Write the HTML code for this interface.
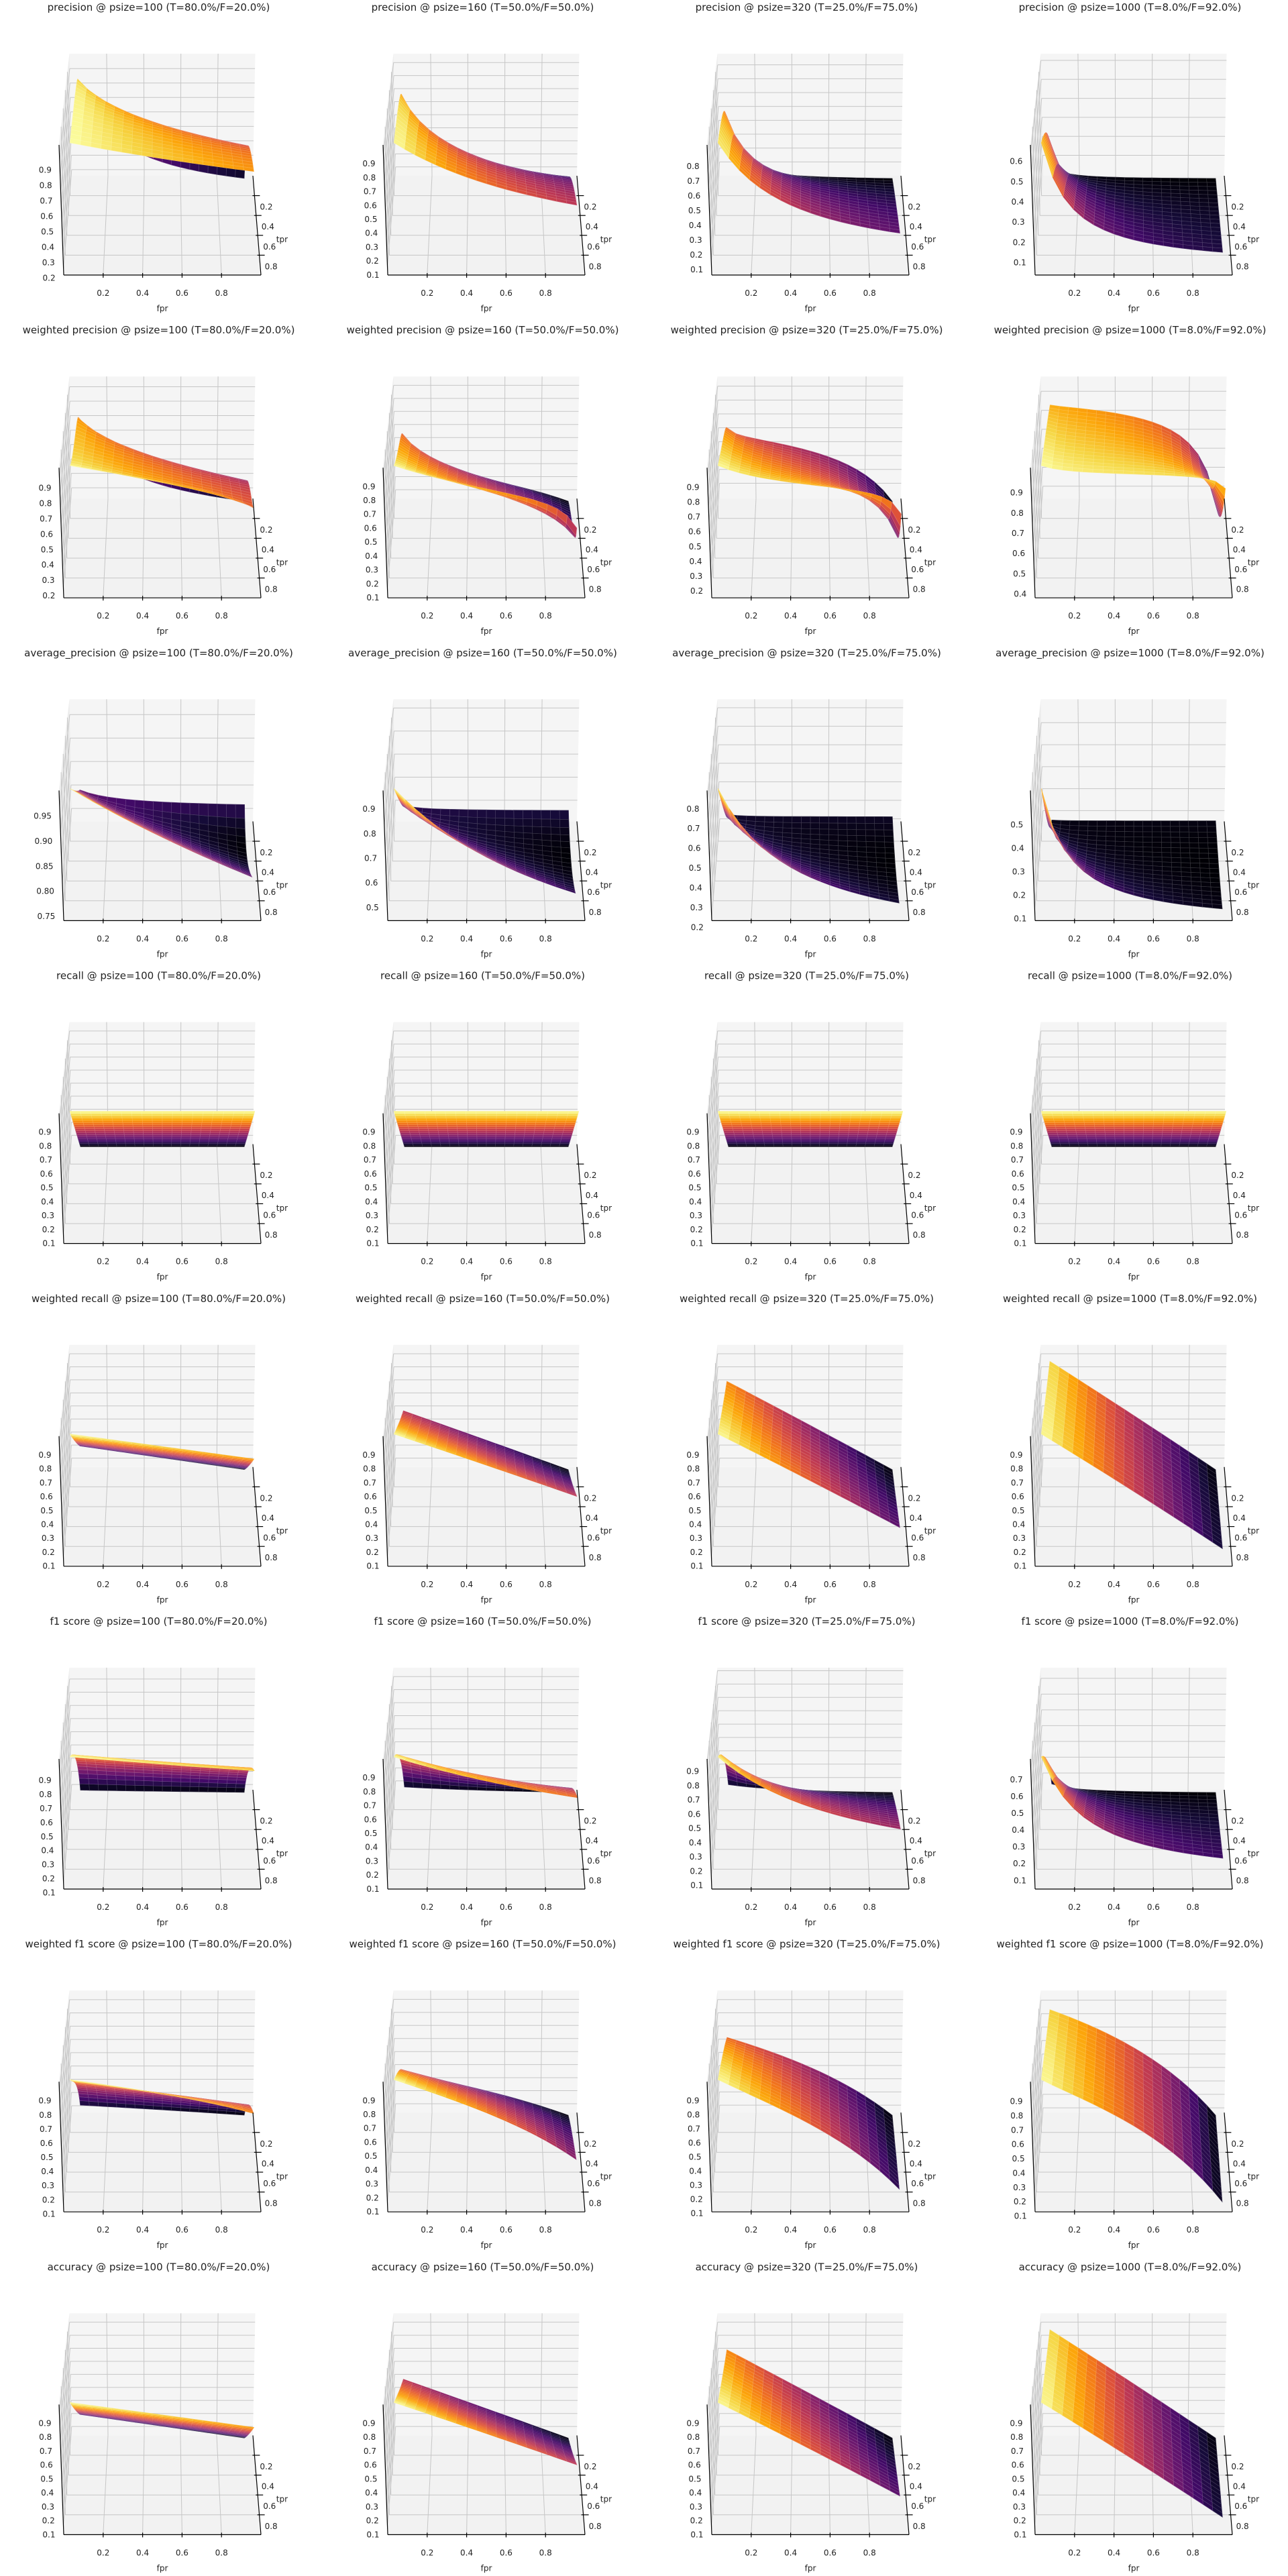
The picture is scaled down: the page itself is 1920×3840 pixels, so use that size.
<!DOCTYPE html>
<html><head><meta charset="utf-8">
<style>
html,body{margin:0;padding:0;background:#fff;}
svg{display:block;}
text{font-family:"DejaVu Sans","Liberation Sans",sans-serif;fill:#222;}
</style></head>
<body>
<svg id="fig" width="1920" height="3840" viewBox="0 0 1920 3840" xmlns="http://www.w3.org/2000/svg"></svg>
<script>
const metrics=['precision','weighted precision','average_precision','recall','weighted recall','f1 score','weighted f1 score','accuracy'];
const psizes=[100,160,320,1000];
const truePct=[80.0,50.0,25.0,8.0];
const gridVals=[0.05,0.10,0.15,0.20,0.25,0.30,0.35,0.40,0.45,0.50,0.55,0.60,0.65,0.70,0.75,0.80,0.85,0.90,0.95];
const fprTicks=[0.2,0.4,0.6,0.8];
const tprTicks=[0.2,0.4,0.6,0.8];
const zTicksPrecision=[[0.2,0.3,0.4,0.5,0.6,0.7,0.8,0.9],[0.1,0.2,0.3,0.4,0.5,0.6,0.7,0.8,0.9],[0.1,0.2,0.3,0.4,0.5,0.6,0.7,0.8],[0.1,0.2,0.3,0.4,0.5,0.6]];
const zTicksWPrecision=[[0.2,0.3,0.4,0.5,0.6,0.7,0.8,0.9],[0.1,0.2,0.3,0.4,0.5,0.6,0.7,0.8,0.9],[0.2,0.3,0.4,0.5,0.6,0.7,0.8,0.9],[0.4,0.5,0.6,0.7,0.8,0.9]];
const zTicksAP=[[0.75,0.80,0.85,0.90,0.95],[0.5,0.6,0.7,0.8,0.9],[0.2,0.3,0.4,0.5,0.6,0.7,0.8],[0.1,0.2,0.3,0.4,0.5]];
const zTicksFull=[0.1,0.2,0.3,0.4,0.5,0.6,0.7,0.8,0.9];
const zTicksF1=[zTicksFull,zTicksFull,zTicksFull,[0.1,0.2,0.3,0.4,0.5,0.6,0.7]];
const zTicks=[zTicksPrecision,zTicksWPrecision,zTicksAP,[zTicksFull,zTicksFull,zTicksFull,zTicksFull],[zTicksFull,zTicksFull,zTicksFull,zTicksFull],zTicksF1,[zTicksFull,zTicksFull,zTicksFull,zTicksFull],[zTicksFull,zTicksFull,zTicksFull,zTicksFull]];

const NS='http://www.w3.org/2000/svg';
const svg=document.getElementById('fig');
const colCenters=[242,245,248,250];

function metricValue(name,f,t,p){
  const q=1-p;
  const prec=p*t/(p*t+q*f);
  const precN=q*(1-f)/(q*(1-f)+p*(1-t));
  const acc=p*t+q*(1-f);
  const f1=2*prec*t/(prec+t);
  const f1N=2*precN*(1-f)/(precN+(1-f));
  switch(name){
    case 'precision':return prec;
    case 'weighted precision':return p*prec+q*precN;
    case 'average_precision':return t*prec+(1-t)*p;
    case 'recall':return t;
    case 'weighted recall':return acc;
    case 'f1 score':return f1;
    case 'weighted f1 score':return p*f1+q*f1N;
    case 'accuracy':return acc;
  }
}
const infernoStops=[[0,0,4],[22,11,57],[66,10,104],[106,23,110],[147,38,103],[188,55,84],[221,81,58],[243,120,25],[252,165,10],[246,215,70],[252,255,164]];
function inferno(v){
  v=Math.max(0,Math.min(1,v))*10;const i=Math.min(9,Math.floor(v));const k=v-i;
  const a=infernoStops[i],b=infernoStops[i+1];
  return [0,1,2].map(j=>Math.round(a[j]+(b[j]-a[j])*k));
}
function el(tag,attrs,parent){const e=document.createElementNS(NS,tag);for(const k in attrs)e.setAttribute(k,attrs[k]);parent.appendChild(e);return e;}

function drawPanel(r,c){
  const ox=c*480, oy=r*480+r*1.2;
  const cx=colCenters[c];
  const name=metrics[r], p=truePct[c]/100;
  const g=el('g',{transform:`translate(${ox},${oy})`},svg);
  
  
  // data
  const Z=gridVals.map(t=>gridVals.map(f=>metricValue(name,f,t,p)));
  let lo=Infinity,hi=-Infinity;Z.forEach(row=>row.forEach(v=>{lo=Math.min(lo,v);hi=Math.max(hi,v);}));
  if(hi-lo<1e-6){hi+=0.05;lo-=0.05;}
  const m=(hi-lo)*0.02;lo-=m;hi+=m;
  const zn=z=>(z-lo)/(hi-lo);
  function proj(f,t,n){
    const w=270+24*t+(7+7*t)*n;
    return [cx+(f-0.5)*w, 262+148*t-(182+12*t)*n];
  }
  const P=(a)=>a.map(q=>q[0].toFixed(1)+','+q[1].toFixed(1)).join(' ');
  // title
  const title=el('text',{x:cx-5.5,y:16,'text-anchor':'middle','font-size':15},g);
  title.textContent=`${name} @ psize=${psizes[c]} (T=${truePct[c].toFixed(1)}%/F=${(100-truePct[c]).toFixed(1)}%)`;
  
  
  // panes
  const wall=el('polygon',{points:P([proj(0,0,0),proj(1,0,0),proj(1,0,1),proj(0,0,1)]),fill:'#f5f5f5'},g);
  
  
  const side=el('polygon',{points:P([proj(0,0,0),proj(0,1,0),proj(0,1,1),proj(0,0,1)]),fill:'#ececec'},g);
  
  
  const floor=el('polygon',{points:P([proj(0,0,0),proj(1,0,0),proj(1,1,0),proj(0,1,0)]),fill:'#f2f2f2'},g);
  
  
  // grid
  const gg=el('g',{stroke:'#c6c6c6','stroke-width':1,fill:'none'},g);
  
  
  const ln=(a,b)=>el('line',{x1:a[0],y1:a[1],x2:b[0],y2:b[1]},gg);
  const ticks=zTicks[r][c].filter(v=>zn(v)>=-0.12&&zn(v)<=1.05);
  ticks.forEach(v=>{const n=Math.max(0,zn(v));ln(proj(0,0,n),proj(1,0,n));ln(proj(0,0,n),proj(0,1,n));});
  fprTicks.forEach(f=>{ln(proj(f,0,0),proj(f,0,1));ln(proj(f,0,0),proj(f,1,0));});
  tprTicks.forEach(t=>{ln(proj(0,t,0),proj(1,t,0));ln(proj(0,t,0),proj(0,t,1));});
  // surface
  const quads=[];
  for(let i=0;i<gridVals.length-1;i++)for(let j=0;j<gridVals.length-1;j++){
    const t0=gridVals[i],t1=gridVals[i+1],f0=gridVals[j],f1=gridVals[j+1];
    const zs=[Z[i][j],Z[i][j+1],Z[i+1][j+1],Z[i+1][j]];
    const avg=(zs[0]+zs[1]+zs[2]+zs[3])/4;
    const pts=[proj(f0,t0,zn(zs[0])),proj(f1,t0,zn(zs[1])),proj(f1,t1,zn(zs[2])),proj(f0,t1,zn(zs[3]))];
    quads.push({pts,avg,depth:(t0+t1)/2+0.3*zn(avg)});
  }
  quads.sort((a,b)=>a.depth-b.depth);
  const sg=el('g',{},g);
  
  
  const dlo=lo+m, dhi=hi-m;
  quads.forEach(q=>{
    const col=inferno((q.avg-dlo)/(dhi-dlo||1));
    const lc=col.map(v=>Math.round(v+(255-v)*0.22));
    const poly=el('polygon',{points:P(q.pts),fill:`rgb(${col})`,stroke:`rgb(${lc})`,'stroke-width':0.6},sg);
    
    
  });
  // axes
  const ag=el('g',{stroke:'#000','stroke-width':1.2,fill:'none'},g);
  
  
  const al=(a,b)=>el('line',{x1:a[0],y1:a[1],x2:b[0],y2:b[1]},ag);
  al(proj(0,1,0),proj(1,1,0));
  al(proj(1,0,0),proj(1,1,0));
  al(proj(0,1,0),proj(0,1,1));
  const tg=el('g',{'font-size':12},g);
  
  
  fprTicks.forEach(f=>{
    const a=proj(f,1,0);al([a[0],a[1]-3],[a[0],a[1]+4]);
    const tx=el('text',{x:a[0],y:a[1]+31,'text-anchor':'middle'},tg);tx.textContent=f.toFixed(1);
    
    
  });
  tprTicks.forEach(t=>{
    const a=proj(1,t,0);al([a[0]-3,a[1]],[a[0]+8,a[1]]);
    const tx=el('text',{x:a[0]+8,y:a[1]+21},tg);tx.textContent=t.toFixed(1);
    
    
  });
  const dec=(zTicks[r][c].length>1&&(zTicks[r][c][1]-zTicks[r][c][0])<0.09)?2:1;
  ticks.forEach(v=>{
    const a=proj(0,1,zn(v));
    const tx=el('text',{x:a[0]-12,y:a[1]+18,'text-anchor':'end'},tg);tx.textContent=v.toFixed(dec);
    
    
  });
  const fl=el('text',{x:cx,y:464,'text-anchor':'middle','font-size':12},g);fl.textContent='fpr';
  
  
  const tp=proj(1,0.65,0);
  const tl=el('text',{x:tp[0]+27,y:tp[1]+3,'font-size':12},g);tl.textContent='tpr';
  
  
}
for(let r=0;r<8;r++)for(let c=0;c<4;c++)drawPanel(r,c);
</script>
</body></html>
